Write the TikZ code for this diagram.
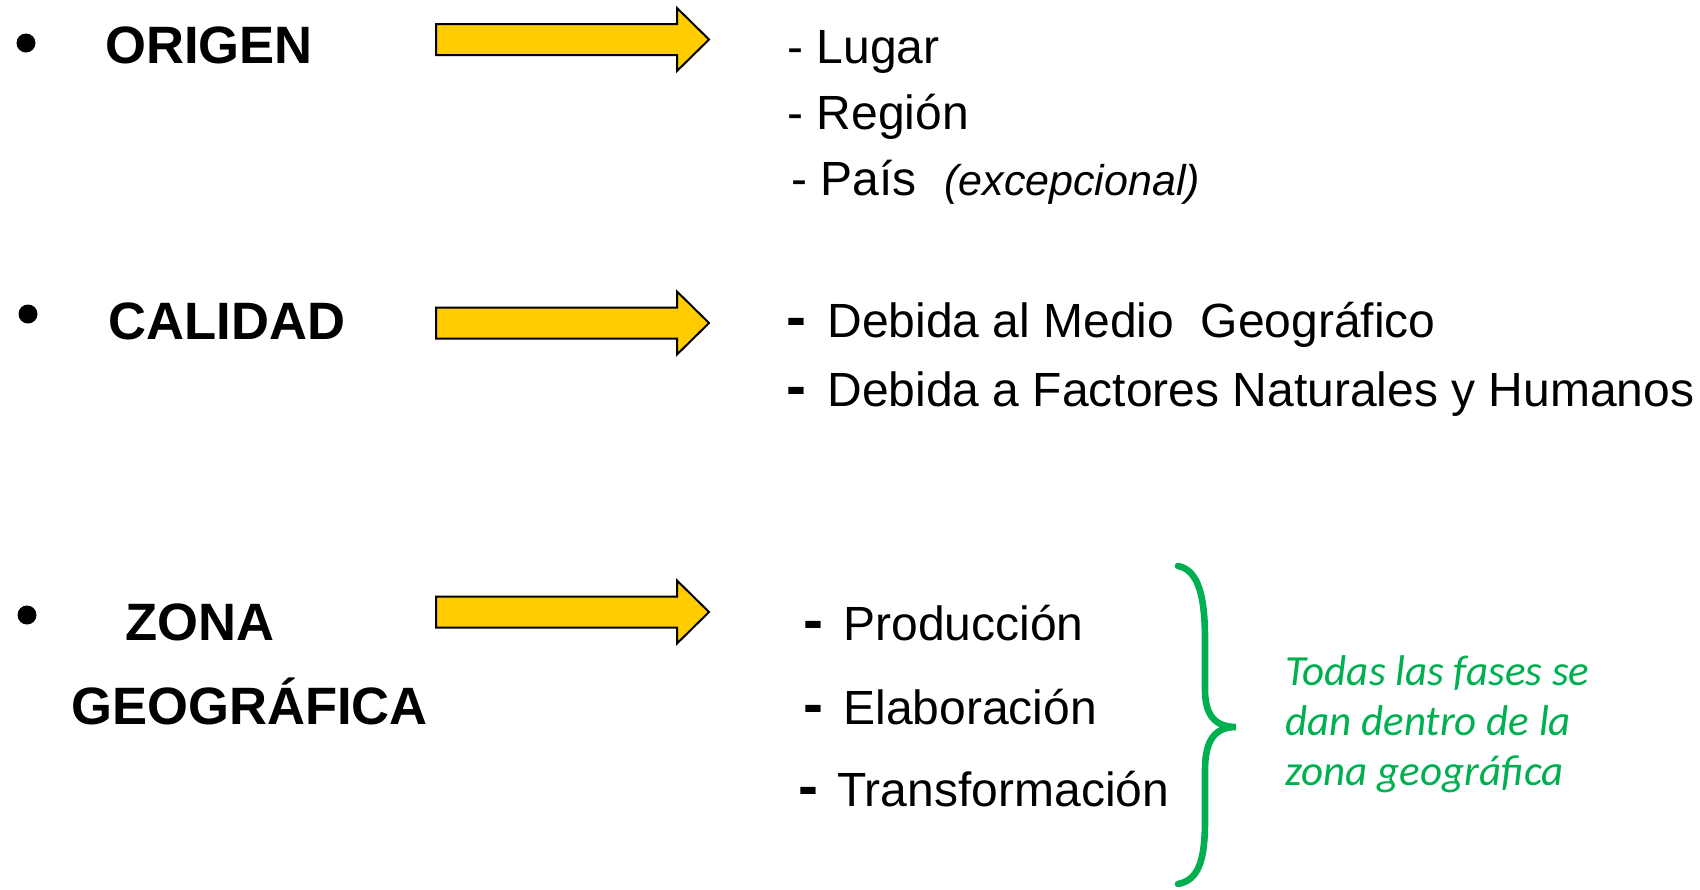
\documentclass[tikz,border=0pt]{standalone}
\usepackage{fontspec}
\setmainfont{Liberation Sans}
\newfontfamily\greenfont{Carlito}
\definecolor{arrowyellow}{HTML}{FFCC00}
\definecolor{bracegreen}{HTML}{00B050}
\newcommand\dashmark[1]{\makebox[#1][l]{{\bfseries\fontsize{30pt}{30pt}\selectfont -}}}
\tikzset{
  head/.style={anchor=base west, inner sep=0pt, font=\bfseries\fontsize{26.3pt}{31pt}\selectfont},
  item/.style={anchor=base west, inner sep=0pt, font=\fontsize{24pt}{29pt}\selectfont},
  bulletdot/.style={circle, fill=black, inner sep=0pt, minimum size=9.5pt},
  yarrow/.style={fill=arrowyellow, draw=black, line width=1pt, line join=miter},
  brace/.style={draw=bracegreen, line width=3.3pt, line cap=round},
  note/.style={anchor=base west, inner sep=0pt, align=left, text=bracegreen,
    font=\greenfont\itshape\fontsize{21.5pt}{25pt}\selectfont}
}
\newcommand\yellowarrow[2]{%
  \begin{scope}[shift={(0,#2)}]
    \draw[yarrow] (436,-15.5) -- (677,-15.5) -- (677,-31.5) -- (709,0) -- (677,31.5) -- (677,15.5) -- (436,15.5) -- cycle;
    \coordinate (#1) at (572,0);
  \end{scope}}
\begin{document}
\begin{tikzpicture}[x=0.5pt,y=-0.5pt]
\useasboundingbox (0,0) rectangle (1700,889);
% bullets
\node[bulletdot] (b1) at (26,43) {};
\node[bulletdot] (b2) at (28,314) {};
\node[bulletdot] (b3) at (27,615) {};
% headings
\node[head] (origen) at (105,63) {ORIGEN};
\node[head] (calidad) at (108,339) {CALIDAD};
\node[head] (zona) at (125,640) {ZONA};
\node[head] (geo) at (71,724) {GEOGRÁFICA};
% arrows
\yellowarrow{a1}{39.5}
\yellowarrow{a2}{323}
\yellowarrow{a3}{612}
% origen items
\node[item] (lugar) at (787,63) {- Lugar};
\node[item] (region) at (787,129) {- Región};
\node[item] (pais) at (791,195) {- País};
\node[anchor=base west, inner sep=0pt, font=\itshape\fontsize{21.5pt}{26pt}\selectfont] (exc) at (944,195) {(excepcional)};
% calidad items
\node[item] (medio) at (786,337) {\dashmark{20.5pt}Debida al Medio\ \ Geográfico};
\node[item] (factores) at (786,406) {\dashmark{20.5pt}Debida a Factores Naturales y Humanos};
% zona items
\node[item] (prod) at (803,640) {\dashmark{20pt}Producción};
\node[item] (elab) at (803,724) {\dashmark{20pt}Elaboración};
\node[item] (trans) at (798,806) {\dashmark{19.5pt}Transformación};
% brace
\draw[brace] (1178,566) .. controls (1198,570) and (1205,595) .. (1205,640)
  -- (1205,690) .. controls (1205,715) and (1215,727) .. (1236,727)
  .. controls (1215,727) and (1205,740) .. (1205,770)
  -- (1205,820) .. controls (1205,862) and (1198,880) .. (1178,884);
\node[note] (fases) at (1285,785) {Todas las fases se\\dan dentro de la\\zona geográfica};
\end{tikzpicture}
\end{document}
